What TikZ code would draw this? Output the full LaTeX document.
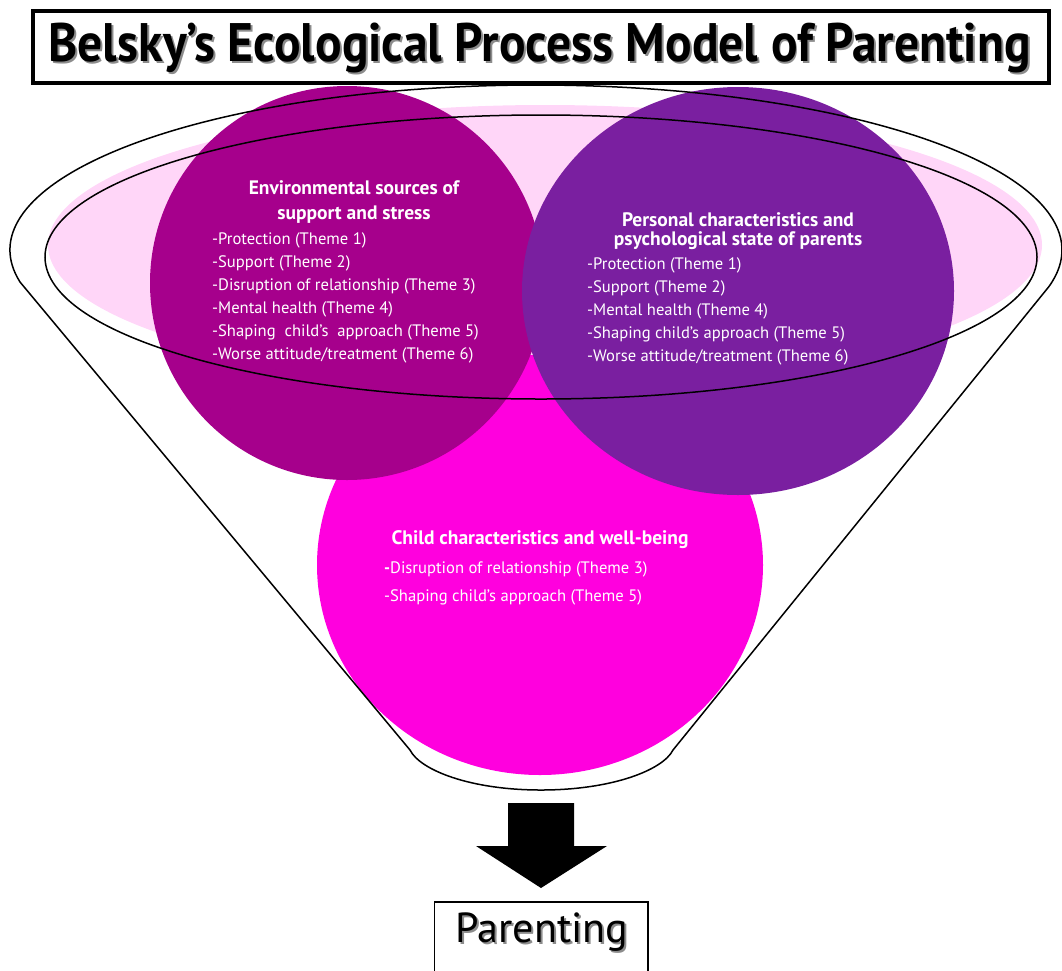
\documentclass[tikz,border=0pt]{standalone}
\usepackage{fontspec}
\setmainfont{PT Sans}
\usepackage{graphicx}
\usetikzlibrary{calc}
\definecolor{envcol}{HTML}{A6008C}
\definecolor{perscol}{HTML}{7A1FA0}
\definecolor{childcol}{HTML}{FF00DE}
\definecolor{rimpink}{HTML}{FFD6F8}
% text with a soft grey drop shadow set behind it
\newcommand{\dropshadowed}[2]{\leavevmode\rlap{\kern#1\raisebox{-#1}{\color{black!45}#2}}#2}
\begin{document}
\begin{tikzpicture}[x=1pt,y=1pt,
  rimline/.style={draw=black,line width=1.5pt},
  headtext/.style={text=white,font=\fontsize{19.5}{22}\selectfont\bfseries,align=center,inner sep=0pt},
  itemtext/.style={text=white,font=\fontsize{16.6}{19}\selectfont,anchor=west,inner sep=0pt}]
\useasboundingbox (0,0) rectangle (1062,-970);
\clip (0,0) rectangle (1062,-970);

% pale rim of the funnel mouth
\fill[rimpink] (545,-245) ellipse[x radius=497,y radius=140];

% the three circles of influence
\fill[childcol] (540,-565) ellipse[x radius=223,y radius=210];
\fill[envcol] (347,-283) circle[radius=197];
\fill[perscol] (738,-291) ellipse[x radius=216,y radius=204];

% inner rim of the funnel
\draw[rimline] (541,-257) ellipse[x radius=496,y radius=142];

% funnel outline: rim over the top, sides down to a rounded spout
\coordinate (lefttop) at ($(536,-250)+(191.2:526 and 165)$);
\coordinate (leftbot) at (410,-750);
\coordinate (rightbot) at (673,-750);
\coordinate (spout) at (541,-790);
\draw[rimline,line join=round]
  (lefttop) arc[start angle=191.2,end angle=-12.9,x radius=526,y radius=165]
  -- (rightbot)
  .. controls (663,-770) and (612,-790) .. (spout)
  .. controls (470,-790) and (420,-770) .. (leftbot)
  -- cycle;

% texts in the circles
\node[headtext] (envhead) at (354,-202) {Environmental sources of\\[3pt]support and stress};
\node[itemtext] (env1) at (212,-240) {-Protection (Theme 1)};
\node[itemtext] (env2) at (212,-263) {-Support (Theme 2)};
\node[itemtext] (env3) at (212,-286) {-Disruption of relationship (Theme 3)};
\node[itemtext] (env4) at (212,-309) {-Mental health (Theme 4)};
\node[itemtext] (env5) at (212,-332) {-Shaping\ \ child's\ \ approach (Theme 5)};
\node[itemtext] (env6) at (212,-355) {-Worse attitude/treatment (Theme 6)};

\node[headtext] (pershead) at (738,-231) {Personal characteristics and\\[-3pt]psychological state of parents};
\node[itemtext] (pers1) at (587,-265) {-Protection (Theme 1)};
\node[itemtext] (pers2) at (587,-288) {-Support (Theme 2)};
\node[itemtext] (pers3) at (587,-311) {-Mental health (Theme 4)};
\node[itemtext] (pers4) at (587,-334) {-Shaping child's approach (Theme 5)};
\node[itemtext] (pers5) at (587,-357) {-Worse attitude/treatment (Theme 6)};

\node[headtext] (childhead) at (540,-540) {Child characteristics and well-being};
\node[itemtext] (child1) at (384,-569) {\textbf{-}Disruption of relationship (Theme 3)};
\node[itemtext] (child2) at (384,-597) {-Shaping child's approach (Theme 5)};

% block arrow down to the outcome
\fill[black] (508,-803) -- (574,-803) -- (574,-846) -- (607,-846) -- (541,-888)
  -- (476,-846) -- (508,-846) -- cycle;

% outcome box
\draw[line width=1.5pt,fill=white] (434.5,-902) rectangle (648,-990);
\node[font=\fontsize{42}{46}\selectfont,inner sep=0pt] (outcome) at (542,-933) {\dropshadowed{2pt}{Parenting}};

% title box
\draw[line width=4pt,fill=white] (33,-11) rectangle (1049,-83);
\node[inner sep=0pt] (title) at (539.5,-49) {\dropshadowed{2pt}{\resizebox*{982pt}{50pt}{\bfseries Belsky’s Ecological Process Model of Parenting}}};
\end{tikzpicture}
\end{document}
